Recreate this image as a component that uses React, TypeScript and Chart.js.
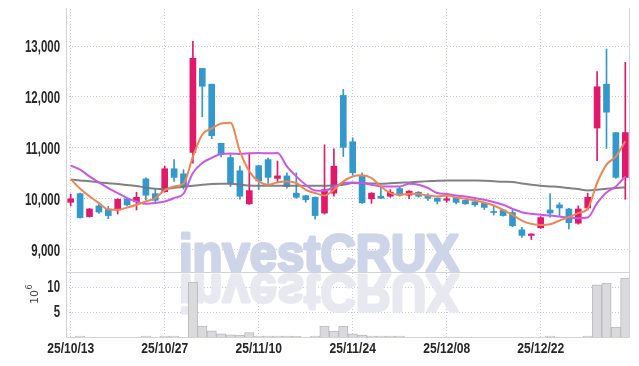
import React, { useEffect, useRef } from 'react';
import { Chart, registerables } from 'chart.js';

Chart.register(...registerables);

const dates = ['25/10/13','25/10/14','25/10/15','25/10/16','25/10/17','25/10/20','25/10/21','25/10/22','25/10/23','25/10/24','25/10/27','25/10/28','25/10/29','25/10/30','25/10/31','25/11/03','25/11/04','25/11/05','25/11/06','25/11/07','25/11/10','25/11/11','25/11/12','25/11/13','25/11/14','25/11/17','25/11/18','25/11/19','25/11/20','25/11/21','25/11/24','25/11/25','25/11/26','25/11/27','25/11/28','25/12/01','25/12/02','25/12/03','25/12/04','25/12/05','25/12/08','25/12/09','25/12/10','25/12/11','25/12/12','25/12/15','25/12/16','25/12/17','25/12/18','25/12/19','25/12/22','25/12/23','25/12/24','25/12/26','25/12/29','25/12/30','26/01/02','26/01/05','26/01/06','26/01/07'];

const opens = [9930,10100,9650,9860,9800,9780,10000,9940,10390,10100,10140,10590,10490,10910,12560,12250,11090,10810,10550,9900,10650,10770,10400,10450,10110,10060,10030,9720,10110,12030,11120,10440,10000,10050,10050,10200,10070,10130,10070,10010,9970,10010,9970,9940,9910,9750,9780,9730,9390,9280,9430,9780,9880,9800,9520,9820,11390,12250,11300,10420];
const highs = [10090,10110,9810,9920,9850,10000,10010,10130,10410,10190,10640,10770,10570,13090,12560,12250,11090,10870,10640,10890,10660,10800,10740,10510,10510,10070,10040,11060,10980,12150,11200,10510,10120,10240,10180,10240,10160,10140,10100,10020,10080,10020,9980,9990,9920,9870,9790,9790,9440,9310,9650,10100,9920,9810,9860,10110,12500,12940,11300,12680];
const lows = [9860,9620,9640,9710,9610,9700,9860,9780,9980,9930,10130,10340,10190,10700,11610,11180,10820,10240,9990,9890,10180,10300,10310,10210,10010,9930,9600,9700,10050,10830,10460,9910,9910,10000,10030,10050,10000,10030,9970,9900,9930,9900,9890,9850,9790,9680,9660,9450,9240,9200,9420,9640,9670,9410,9500,9780,10750,10990,10400,9990];
const closes = [10000,9630,9800,9740,9670,9990,9880,10030,10070,9970,10590,10420,10240,12760,12210,11240,10870,10310,10050,10160,10350,10420,10450,10240,10030,9980,9670,10180,10640,11010,10510,9920,10110,10010,10130,10070,10150,10050,10010,9950,10000,9930,9900,9880,9830,9730,9670,9470,9280,9310,9630,9720,9820,9530,9800,10030,12200,11700,10420,11300];

// volume in millions of shares
const volumes = [0,0.2,0,0,0,0,0,0,0.2,0,0.2,0.2,0,11.0,2.2,1.25,0.65,0.45,0.33,0.9,0.2,0.2,0.2,0.2,0.15,0,0.2,2.2,1.2,2.2,0.65,0.4,0.2,0.2,0.2,0.2,0,0,0,0,0,0,0,0,0,0,0,0,0,0,0,0.2,0,0,0,0.2,10.45,10.8,2.0,11.8];

const maShort = [10386,10197,10049,9915,9791,9783,9826,9882,9947,10014,10168,10243,10296,10828,11262,11380,11479,11493,10933,10540,10341,10276,10322,10341,10310,10177,10112,10065,10177,10341,10440,10460,10408,10243,10112,10079,10099,10092,10065,10045,10065,10026,10000,9966,9927,9868,9783,9684,9572,9507,9487,9501,9572,9639,9718,9803,10310,10670,10834,11130];
const maMid = [10651,10572,10440,10322,10211,10112,10014,9947,9901,9915,9947,10014,10099,10507,10704,10802,10881,10887,10881,10893,10900,10893,10900,10637,10440,10276,10164,10158,10230,10309,10322,10310,10276,10243,10243,10243,10296,10276,10211,10112,10092,10065,10045,10014,9980,9935,9882,9803,9737,9704,9684,9671,9651,9631,9619,9631,9915,10125,10243,10440];
const maLong = [10380,10360,10345,10322,10305,10290,10270,10250,10220,10195,10191,10215,10235,10256,10275,10290,10295,10296,10280,10260,10256,10256,10256,10256,10256,10256,10256,10256,10265,10276,10310,10305,10300,10296,10305,10315,10322,10335,10345,10355,10361,10361,10360,10358,10355,10345,10335,10329,10300,10276,10256,10243,10230,10210,10191,10164,10177,10197,10211,10223];

const priceTicks = [9000, 10000, 11000, 12000, 13000];
const volumeTicks = [5, 10];
const labelEvery = 10;
const watermark = 'investCRUX';

const RED = '#E2196B';
const BLUE = '#3399CC';
const GRID = '#C4C7DF';
const LINE = '#D2D2D8';
const TEXT = '#262626';

const condensedText = (ctx: any, text: string, x: number, y: number, sx: number, align: string) => {
  ctx.save();
  ctx.translate(x, y);
  ctx.scale(sx, 1);
  ctx.textAlign = align;
  ctx.textBaseline = 'middle';
  ctx.fillText(text, 0, 0);
  ctx.restore();
};

const decorPlugin = {
  id: 'decor',
  beforeDatasetsDraw(chart: any) {
    const { ctx, chartArea, scales } = chart;
    const x = scales.x, y = scales.y, yv = scales.yv;
    ctx.save();
    ctx.strokeStyle = GRID;
    ctx.lineWidth = 1;
    ctx.setLineDash([1, 2]);
    ctx.beginPath();
    for (const v of priceTicks) {
      const py = Math.floor(y.getPixelForValue(v)) + 0.5;
      ctx.moveTo(chartArea.left, py);
      ctx.lineTo(chartArea.right, py);
    }
    for (const v of volumeTicks) {
      const py = Math.floor(yv.getPixelForValue(v)) + 0.5;
      ctx.moveTo(chartArea.left, py);
      ctx.lineTo(chartArea.right, py);
    }
    dates.forEach((_, i) => {
      if (i % labelEvery === 0) {
        const px = Math.floor(x.getPixelForValue(i)) + 0.5;
        ctx.moveTo(px, chartArea.top);
        ctx.lineTo(px, chartArea.bottom);
      }
    });
    ctx.stroke();
    ctx.setLineDash([]);

    // watermark with reflection
    ctx.font = 'bold 52px "Liberation Sans", Arial, sans-serif';
    const w = ctx.measureText(watermark).width;
    const sx = 280 / w;
    const baseY = y.bottom - 1;
    ctx.textAlign = 'left';
    ctx.textBaseline = 'alphabetic';
    ctx.lineJoin = 'round';
    ctx.lineWidth = 3;
    ctx.save();
    ctx.translate(179, baseY);
    ctx.scale(sx, 1);
    ctx.fillStyle = 'rgb(207,213,233)';
    ctx.strokeStyle = 'rgb(207,213,233)';
    ctx.fillText(watermark, 0, 0);
    ctx.strokeText(watermark, 0, 0);
    ctx.restore();
    ctx.save();
    ctx.translate(179, baseY + 4);
    ctx.scale(sx, -1);
    ctx.fillStyle = 'rgb(232,232,240)';
    ctx.strokeStyle = 'rgb(232,232,240)';
    ctx.fillText(watermark, 0, 0);
    ctx.strokeText(watermark, 0, 0);
    ctx.restore();
    ctx.restore();
  },
  afterDraw(chart: any) {
    const { ctx, chartArea, scales } = chart;
    const x = scales.x, y = scales.y, yv = scales.yv;
    ctx.save();
    ctx.strokeStyle = LINE;
    ctx.lineWidth = 1;
    ctx.beginPath();
    ctx.moveTo(chartArea.left + 0.5, chartArea.top - 1);
    ctx.lineTo(chartArea.left + 0.5, chartArea.bottom);
    ctx.moveTo(chartArea.right - 0.5, chartArea.top - 1);
    ctx.lineTo(chartArea.right - 0.5, chartArea.bottom);
    const sep = Math.floor(y.bottom) + 0.5;
    ctx.moveTo(chartArea.left, sep);
    ctx.lineTo(chartArea.right, sep);
    const bot = Math.floor(chartArea.bottom) + 0.5;
    ctx.moveTo(chartArea.left, bot);
    ctx.lineTo(chartArea.right, bot);
    ctx.stroke();

    ctx.fillStyle = TEXT;
    ctx.font = 'bold 16px "Liberation Sans", Arial, sans-serif';
    const sxY = 35 / ctx.measureText('13,000').width;
    for (const v of priceTicks) {
      condensedText(ctx, v.toLocaleString('en-US'), 60, y.getPixelForValue(v) + 2, sxY, 'right');
    }
    for (const v of volumeTicks) {
      condensedText(ctx, String(v), 60, yv.getPixelForValue(v) + 0.5, sxY, 'right');
    }
    ctx.font = 'bold 15px "Liberation Sans", Arial, sans-serif';
    const sxX = 47 / ctx.measureText('25/10/13').width;
    dates.forEach((d, i) => {
      if (i % labelEvery === 0) {
        condensedText(ctx, d, x.getPixelForValue(i), 349, sxX, 'center');
      }
    });

    // unit title 10^6
    ctx.save();
    ctx.translate(34, (yv.top + yv.bottom) / 2 - 10);
    ctx.rotate(-Math.PI / 2);
    ctx.fillStyle = '#444';
    ctx.textBaseline = 'middle';
    ctx.textAlign = 'left';
    ctx.font = '11px "DejaVu Sans", sans-serif';
    const w10 = ctx.measureText('10').width;
    ctx.font = '8px "DejaVu Sans", sans-serif';
    const w6 = ctx.measureText('6').width;
    const start = -(w10 + w6) / 2;
    ctx.font = '11px "DejaVu Sans", sans-serif';
    ctx.fillText('10', start, 1);
    ctx.font = '8px "DejaVu Sans", sans-serif';
    ctx.fillText('6', start + w10 + 0.5, -4);
    ctx.restore();
    ctx.restore();
  },
};

export default function App() {
  const ref = useRef<HTMLCanvasElement>(null);
  useEffect(() => {
    if (!ref.current) return;
    const colors = dates.map((_, i) => (closes[i] >= opens[i] ? RED : BLUE));
    const chart = new Chart(ref.current, {
      type: 'bar',
      data: {
        labels: dates,
        datasets: [
          {
            type: 'line', label: 'MA short', data: maShort, yAxisID: 'y', order: 0,
            borderColor: '#EF8550', borderWidth: 2, pointRadius: 0, cubicInterpolationMode: 'monotone', fill: false,
          },
          {
            type: 'line', label: 'MA mid', data: maMid, yAxisID: 'y', order: 1,
            borderColor: '#C957E8', borderWidth: 2, pointRadius: 0, cubicInterpolationMode: 'monotone', fill: false,
          },
          {
            type: 'line', label: 'MA long', data: maLong, yAxisID: 'y', order: 2,
            borderColor: 'rgba(115,115,115,0.9)', borderWidth: 2, pointRadius: 0, cubicInterpolationMode: 'monotone', fill: false,
          },
          {
            type: 'bar', label: 'body', data: dates.map((_, i) => [opens[i], closes[i]]) as any, yAxisID: 'y', order: 3,
            backgroundColor: colors, barThickness: 6, grouped: false, borderWidth: 0,
          },
          {
            type: 'bar', label: 'wick', data: dates.map((_, i) => [lows[i], highs[i]]) as any, yAxisID: 'y', order: 4,
            backgroundColor: colors, barThickness: 1, grouped: false, borderWidth: 0,
          },
          {
            type: 'bar', label: 'volume', data: volumes, yAxisID: 'yv', order: 5,
            backgroundColor: '#DADADD', borderColor: '#B9B9BE', borderWidth: 1,
            barPercentage: 1, categoryPercentage: 1, grouped: false,
          },
        ] as any,
      },
      options: {
        responsive: false,
        animation: false,
        events: [],
        layout: { padding: { top: 9, right: 9, left: 0, bottom: 0 } },
        plugins: { legend: { display: false }, tooltip: { enabled: false } },
        scales: {
          x: {
            type: 'category', offset: true,
            grid: { display: false }, border: { display: false }, ticks: { display: false },
            afterFit: (s: any) => { s.height = 29; },
          },
          yv: {
            type: 'linear', position: 'left', stack: 'panels', stackWeight: 65, min: 0, max: 13,
            grid: { display: false }, border: { display: false }, ticks: { display: false },
            afterFit: (s: any) => { s.width = 66; },
          },
          y: {
            type: 'linear', position: 'left', stack: 'panels', stackWeight: 263, min: 8562, max: 13727,
            grid: { display: false }, border: { display: false }, ticks: { display: false },
            afterFit: (s: any) => { s.width = 66; },
          },
        } as any,
      },
      plugins: [decorPlugin],
    });
    return () => chart.destroy();
  }, []);
  return (
    <div style={{ position: 'fixed', left: 0, top: 0, width: 639, height: 366, background: '#fff' }}>
      <canvas ref={ref} width={639} height={366} style={{ display: 'block' }} />
    </div>
  );
}
